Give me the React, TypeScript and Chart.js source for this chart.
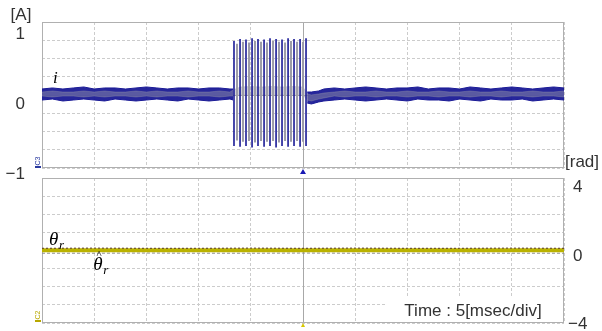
import React, { useEffect, useRef } from 'react';
import { Chart, registerables } from 'chart.js';

Chart.register(...registerables);

// ---------- axes ----------
const gridTimes = [0, 5, 10, 15, 20, 25, 30, 35, 40, 45, 50]; // ms, 5 ms/div
const gridDivs = [-4, -3, -2, -1, 0, 1, 2, 3, 4];
const ampTicks = [1, 0, -1];
const radTicks = [4, 0, -4];
const ampMin = -0.914;
const ampMax = 1.171;
const radMin = -3.93;
const radMax = 4.57;
const triggerTime = 25;

// ---------- i (C3, blue) envelope ----------
const bluePreT = [0, 1, 2, 3, 4, 5, 6, 7, 8, 9, 10, 11, 12, 13, 14, 15, 16, 17, 18, 18.3];
const bluePreHi = [0.214, 0.229, 0.214, 0.229, 0.243, 0.214, 0.229, 0.229, 0.214, 0.229, 0.243, 0.229, 0.214, 0.229, 0.229, 0.214, 0.229, 0.229, 0.214, 0.214];
const bluePreLo = [0.057, 0.071, 0.043, 0.057, 0.071, 0.057, 0.043, 0.071, 0.057, 0.043, 0.057, 0.071, 0.057, 0.043, 0.071, 0.057, 0.043, 0.057, 0.071, 0.057];
const bluePostT = [25.4, 25.8, 26.5, 27, 28, 29, 30, 31, 32, 33, 34, 35, 36, 37, 38, 39, 40, 41, 42, 43, 44, 45, 46, 47, 48, 49, 50];
const bluePostHi = [0.171, 0.171, 0.186, 0.214, 0.229, 0.214, 0.229, 0.243, 0.229, 0.214, 0.229, 0.229, 0.243, 0.214, 0.229, 0.229, 0.214, 0.243, 0.229, 0.214, 0.229, 0.243, 0.229, 0.214, 0.229, 0.243, 0.229];
const bluePostLo = [0.014, 0.0, 0.029, 0.043, 0.057, 0.071, 0.057, 0.043, 0.057, 0.071, 0.057, 0.043, 0.071, 0.057, 0.057, 0.043, 0.071, 0.057, 0.043, 0.071, 0.057, 0.057, 0.071, 0.043, 0.057, 0.071, 0.057];

// ---------- i (gray) inner band ----------
const grayBurstT = [19, 20, 21, 22, 23, 24, 25];
const grayPreHi = [0.171, 0.186, 0.171, 0.171, 0.186, 0.171, 0.186, 0.171, 0.171, 0.186, 0.171, 0.186, 0.171, 0.171, 0.186, 0.171, 0.171, 0.186, 0.171, 0.2];
const grayPreLo = [0.114, 0.1, 0.114, 0.114, 0.1, 0.114, 0.1, 0.114, 0.114, 0.1, 0.114, 0.1, 0.114, 0.114, 0.1, 0.114, 0.114, 0.1, 0.114, 0.114];
const grayBurstHi = [0.243, 0.25, 0.243, 0.25, 0.243, 0.25, 0.243];
const grayBurstLo = [0.129, 0.121, 0.129, 0.121, 0.129, 0.121, 0.129];
const grayPostHi = [0.143, 0.129, 0.143, 0.157, 0.171, 0.186, 0.171, 0.171, 0.186, 0.171, 0.171, 0.186, 0.171, 0.171, 0.186, 0.171, 0.171, 0.186, 0.171, 0.171, 0.186, 0.171, 0.171, 0.186, 0.171, 0.171, 0.186];
const grayPostLo = [0.057, 0.043, 0.071, 0.086, 0.114, 0.1, 0.114, 0.114, 0.1, 0.114, 0.114, 0.1, 0.114, 0.114, 0.1, 0.114, 0.114, 0.1, 0.114, 0.114, 0.1, 0.114, 0.114, 0.1, 0.114, 0.114, 0.1];

// ---------- burst spikes ----------
const blueSpikeT = [18.39, 18.97, 19.54, 20.12, 20.69, 21.27, 21.84, 22.42, 22.99, 23.57, 24.14, 24.72, 25.29];
const blueSpikeTop = [0.9, 0.93, 0.92, 0.94, 0.93, 0.92, 0.94, 0.93, 0.92, 0.94, 0.93, 0.93, 0.94];
const blueSpikeBot = [-0.6, -0.61, -0.6, -0.62, -0.6, -0.61, -0.6, -0.62, -0.6, -0.61, -0.6, -0.61, -0.6];
const graySpikeT = [18.68, 19.25, 19.83, 20.4, 20.98, 21.55, 22.13, 22.7, 23.28, 23.85, 24.43, 25.0];
const graySpikeTop = [0.86, 0.89, 0.88, 0.9, 0.89, 0.88, 0.9, 0.89, 0.88, 0.9, 0.89, 0.89];
const graySpikeBot = [-0.52, -0.54, -0.53, -0.55, -0.53, -0.54, -0.53, -0.55, -0.53, -0.54, -0.53, -0.54];

// ---------- theta_r ----------
const thetaT = [0, 5, 10, 15, 20, 25, 30, 35, 40, 45, 50];
const thetaYellow = [0.33, 0.34, 0.33, 0.33, 0.34, 0.33, 0.34, 0.33, 0.33, 0.34, 0.33];
const thetaDark = [0.45, 0.46, 0.45, 0.45, 0.46, 0.45, 0.46, 0.45, 0.45, 0.46, 0.45];
const thetaHatGray = [0.16, 0.16, 0.17, 0.16, 0.16, 0.17, 0.16, 0.16, 0.17, 0.16, 0.16];

// ---------- styles ----------
const SANS = '"Liberation Sans", Arial, sans-serif';
const SERIF = '"Liberation Serif", "Times New Roman", serif';
const TICK_COLOR = '#333333';
const GRID_COLOR = '#cccccc';
const FRAME_COLOR = '#b0b0b0';
const CENTER_COLOR = '#a8a8a8';
const NAVY = '#1a1a96';
const GRAY = '#9c9ca8';
const YELLOW = '#bab200';

type P = { x: number; y: number | null };
const pts = (ts: number[], vs: number[]): P[] => ts.map((t, i) => ({ x: t, y: vs[i] }));
const gapAt = (t: number): P => ({ x: t, y: null });
const spikes = (ts: number[], tops: number[], bots: number[]): P[] =>
  ts.flatMap((t, i) => [{ x: t, y: tops[i] }, { x: t, y: bots[i] }, { x: t, y: null }]);

const fmtTick = (v: number) => (v < 0 ? '\u2212' + Math.abs(v) : String(v));

function xScale() {
  return {
    type: 'linear' as const,
    min: 0,
    max: 50,
    position: 'bottom' as const,
    afterBuildTicks: (s: any) => { s.ticks = gridTimes.map((v) => ({ value: v })); },
    ticks: { display: false },
    grid: { color: GRID_COLOR, drawTicks: false, lineWidth: 1 },
    border: { display: false, dash: [3, 2] },
    afterFit: (s: any) => { s.height = 0; s.paddingLeft = 0; s.paddingRight = 0; },
  };
}
function gridYScale(position: 'left' | 'right') {
  return {
    type: 'linear' as const,
    min: -4,
    max: 4,
    position,
    afterBuildTicks: (s: any) => { s.ticks = gridDivs.map((v) => ({ value: v })); },
    ticks: { display: false },
    grid: { color: GRID_COLOR, drawTicks: false, lineWidth: 1 },
    border: { display: false, dash: [3, 2] },
    afterFit: (s: any) => { s.width = 0; s.paddingTop = 0; s.paddingBottom = 0; },
  };
}

function drawFrame(chart: any) {
  const { ctx, chartArea: a, scales } = chart;
  ctx.save();
  ctx.lineWidth = 1;
  ctx.strokeStyle = CENTER_COLOR;
  const cx = Math.round(scales.x.getPixelForValue(triggerTime)) + 0.5;
  const cy = Math.round(scales.yG.getPixelForValue(0)) + 0.5;
  ctx.beginPath();
  ctx.moveTo(cx, a.top); ctx.lineTo(cx, a.bottom);
  ctx.moveTo(a.left, cy); ctx.lineTo(a.right, cy);
  ctx.stroke();
  ctx.strokeStyle = FRAME_COLOR;
  ctx.strokeRect(Math.round(a.left) + 0.5, Math.round(a.top) + 0.5, Math.round(a.right - a.left) - 1, Math.round(a.bottom - a.top) - 1);
  ctx.restore();
}

function channelMark(ctx: CanvasRenderingContext2D, x: number, y: number, label: string, color: string) {
  ctx.save();
  ctx.translate(x, y);
  ctx.rotate(-Math.PI / 2);
  ctx.font = `7px ${SANS}`;
  ctx.fillStyle = color;
  ctx.textAlign = 'center';
  ctx.textBaseline = 'middle';
  ctx.fillText(label, 0, 0);
  ctx.restore();
  ctx.save();
  ctx.strokeStyle = color;
  ctx.lineWidth = 2;
  ctx.beginPath();
  ctx.moveTo(x - 3, y + 6); ctx.lineTo(x + 3, y + 6);
  ctx.stroke();
  ctx.restore();
}

const lineDefaults = { pointRadius: 0, tension: 0, spanGaps: false };

export default function App() {
  const topRef = useRef<HTMLCanvasElement>(null);
  const botRef = useRef<HTMLCanvasElement>(null);

  useEffect(() => {
    const topDecor = {
      id: 'topDecor',
      beforeDatasetsDraw: (chart: any) => drawFrame(chart),
      afterDraw: (chart: any) => {
        const { ctx, chartArea: a, scales } = chart;
        ctx.save();
        ctx.fillStyle = TICK_COLOR;
        ctx.font = `17px ${SANS}`;
        ctx.textAlign = 'center';
        ctx.textBaseline = 'middle';
        ctx.fillText('[A]', 21, 15);
        // i label
        ctx.fillStyle = '#000';
        ctx.font = `italic 17px ${SERIF}`;
        ctx.textAlign = 'left';
        ctx.fillText('i', scales.x.getPixelForValue(1.05), scales.y.getPixelForValue(0.37));
        // trigger marker
        const tx = scales.x.getPixelForValue(triggerTime);
        ctx.fillStyle = '#1a1ab4';
        ctx.beginPath();
        ctx.moveTo(tx, a.bottom + 1);
        ctx.lineTo(tx + 3, a.bottom + 6);
        ctx.lineTo(tx - 3, a.bottom + 6);
        ctx.closePath();
        ctx.fill();
        ctx.restore();
        channelMark(ctx, 38, a.bottom - 7, 'C3', '#2a3aa0');
      },
    };

    const botDecor = {
      id: 'botDecor',
      beforeDatasetsDraw: (chart: any) => drawFrame(chart),
      afterDraw: (chart: any) => {
        const { ctx, chartArea: a, scales } = chart;
        ctx.save();
        ctx.fillStyle = TICK_COLOR;
        ctx.font = `17px ${SANS}`;
        ctx.textAlign = 'center';
        ctx.textBaseline = 'middle';
        ctx.fillText('[rad]', 582, a.top - 16);
        // theta labels
        ctx.fillStyle = '#000';
        ctx.textAlign = 'left';
        const x1 = scales.x.getPixelForValue(0.67);
        const y1 = scales.yR.getPixelForValue(0.94);
        ctx.font = `italic 19px ${SERIF}`;
        ctx.fillText('\u03B8', x1, y1);
        ctx.font = `italic 13px ${SERIF}`;
        ctx.fillText('r', x1 + 10, y1 + 6);
        const x2 = scales.x.getPixelForValue(4.9);
        const y2 = scales.yR.getPixelForValue(-0.53);
        ctx.font = `italic 19px ${SERIF}`;
        ctx.fillText('\u03B8', x2, y2);
        ctx.font = `italic 11px ${SERIF}`;
        ctx.fillText('^', x2 + 3, y2 - 10);
        ctx.font = `italic 13px ${SERIF}`;
        ctx.fillText('r', x2 + 10, y2 + 6);
        // time box
        const bw = 178, bh = 24;
        const bx = Math.round(a.right) - 1 - bw;
        const by = Math.round(a.bottom) - 1 - bh;
        ctx.fillStyle = '#ffffff';
        ctx.fillRect(bx, by, bw, bh);
        ctx.fillStyle = TICK_COLOR;
        ctx.font = `17px ${SANS}`;
        ctx.textAlign = 'center';
        ctx.textBaseline = 'middle';
        ctx.fillText('Time : 5[msec/div]', bx + bw / 2 - 1, by + bh / 2 + 1);
        // yellow trigger marker
        const tx = scales.x.getPixelForValue(triggerTime);
        ctx.fillStyle = '#d8c800';
        ctx.beginPath();
        ctx.moveTo(tx, a.bottom);
        ctx.lineTo(tx + 2, a.bottom + 4);
        ctx.lineTo(tx - 2, a.bottom + 4);
        ctx.closePath();
        ctx.fill();
        ctx.restore();
        channelMark(ctx, 38, a.bottom - 8, 'C2', '#b8a800');
      },
    };

    const blueLoData = [...pts(bluePreT, bluePreLo), gapAt(21.8), ...pts(bluePostT, bluePostLo)];
    const blueHiData = [...pts(bluePreT, bluePreHi), gapAt(21.8), ...pts(bluePostT, bluePostHi)];
    const grayLoData = [...pts(bluePreT, grayPreLo), ...pts(grayBurstT, grayBurstLo), ...pts(bluePostT, grayPostLo)];
    const grayHiData = [...pts(bluePreT, grayPreHi), ...pts(grayBurstT, grayBurstHi), ...pts(bluePostT, grayPostHi)];

    const c1 = new Chart(topRef.current!, {
      type: 'line',
      data: {
        datasets: [
          { data: blueLoData as any, yAxisID: 'y', borderColor: NAVY, borderWidth: 1, fill: false, order: 4, ...lineDefaults },
          { data: blueHiData as any, yAxisID: 'y', borderColor: NAVY, borderWidth: 1, backgroundColor: 'rgba(26,26,150,0.95)', fill: '-1', order: 4, ...lineDefaults },
          { data: grayLoData as any, yAxisID: 'y', borderColor: 'rgba(156,156,168,0.35)', borderWidth: 1, fill: false, order: 3, ...lineDefaults },
          { data: grayHiData as any, yAxisID: 'y', borderColor: 'rgba(156,156,168,0.35)', borderWidth: 1, backgroundColor: 'rgba(156,156,168,0.45)', fill: '-1', order: 3, ...lineDefaults },
          { data: spikes(graySpikeT, graySpikeTop, graySpikeBot) as any, yAxisID: 'y', borderColor: GRAY, borderWidth: 2, fill: false, order: 2, ...lineDefaults },
          { data: spikes(blueSpikeT, blueSpikeTop, blueSpikeBot) as any, yAxisID: 'y', borderColor: NAVY, borderWidth: 1.6, fill: false, order: 1, ...lineDefaults },
        ],
      },
      options: {
        animation: false,
        responsive: false,
        events: [],
        layout: { padding: { top: 22, right: 38, bottom: 22, left: 0 } },
        plugins: { legend: { display: false }, tooltip: { enabled: false } },
        scales: {
          x: xScale(),
          yG: gridYScale('right'),
          y: {
            type: 'linear',
            min: ampMin,
            max: ampMax,
            position: 'left',
            afterBuildTicks: (s: any) => { s.ticks = ampTicks.map((v) => ({ value: v })); },
            ticks: { callback: (v: any) => fmtTick(Number(v)), padding: 17, crossAlign: 'near', color: TICK_COLOR, font: { family: SANS, size: 17 } },
            grid: { display: false, drawTicks: false },
            border: { display: false },
            afterFit: (s: any) => { s.width = 42; s.paddingTop = 0; s.paddingBottom = 0; },
          },
        } as any,
      },
      plugins: [topDecor],
    });

    const c2 = new Chart(botRef.current!, {
      type: 'line',
      data: {
        datasets: [
          { data: pts(thetaT, thetaDark) as any, borderColor: '#5a3826', borderWidth: 1, borderDash: [2, 2], fill: false, order: 1, yAxisID: 'yR', ...lineDefaults },
          { data: pts(thetaT, thetaYellow) as any, borderColor: YELLOW, borderWidth: 4, fill: false, order: 2, yAxisID: 'yR', ...lineDefaults },
          { data: pts(thetaT, thetaHatGray) as any, borderColor: '#8c8c8c', borderWidth: 1, borderDash: [3, 2], fill: false, order: 3, yAxisID: 'yR', ...lineDefaults },
        ],
      },
      options: {
        animation: false,
        responsive: false,
        events: [],
        layout: { padding: { top: 28, right: 0, bottom: 17, left: 42 } },
        plugins: { legend: { display: false }, tooltip: { enabled: false } },
        scales: {
          x: xScale(),
          yG: gridYScale('left'),
          yR: {
            type: 'linear',
            min: radMin,
            max: radMax,
            position: 'right',
            afterBuildTicks: (s: any) => { s.ticks = radTicks.map((v) => ({ value: v })); },
            ticks: { callback: (v: any) => fmtTick(Number(v)), padding: 4, crossAlign: 'center', color: TICK_COLOR, font: { family: SANS, size: 17 } },
            grid: { display: false, drawTicks: false },
            border: { display: false },
            afterFit: (s: any) => { s.width = 38; s.paddingTop = 0; s.paddingBottom = 0; },
          },
        } as any,
      },
      plugins: [botDecor],
    });

    return () => { c1.destroy(); c2.destroy(); };
  }, []);

  return (
    <div style={{ position: 'fixed', left: 0, top: 0, width: 602, height: 331, overflow: 'hidden', background: '#ffffff' }}>
      <canvas ref={topRef} width={602} height={190} style={{ position: 'absolute', left: 0, top: 0, width: 602, height: 190 }} />
      <canvas ref={botRef} width={602} height={190} style={{ position: 'absolute', left: 0, top: 150, width: 602, height: 190 }} />
    </div>
  );
}
